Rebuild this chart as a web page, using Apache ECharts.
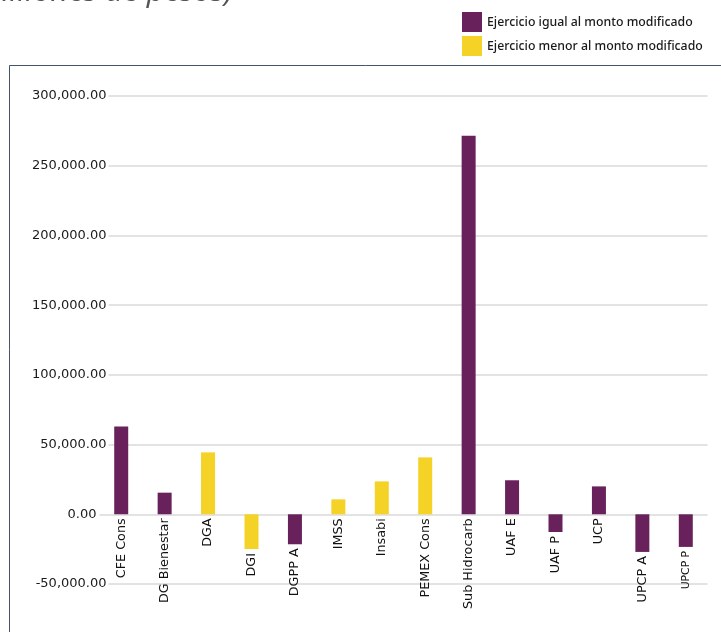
<!DOCTYPE html>
<html>
<head>
<meta charset="utf-8">
<script src="https://cdn.jsdelivr.net/npm/echarts@6/dist/echarts.min.js"></script>
<style>
  html, body { margin: 0; padding: 0; background: #fff; }
  #chart { width: 721px; height: 632px; }
</style>
</head>
<body>
<div id="chart"></div>
<script>
// Budget units (unidades responsables)
const categories = ['CFE Cons', 'DG Bienestar', 'DGA', 'DGI', 'DGPP A', 'IMSS', 'Insabi',
  'PEMEX Cons', 'Sub Hidrocarb', 'UAF E', 'UAF P', 'UCP', 'UPCP A', 'UPCP P'];

// Spending equal to the modified amount (millions of pesos)
const igualValues = [63000, 15500, null, null, -21500, null, null,
  null, 271500, 24400, -12700, 20000, -27000, -23400];

// Spending below the modified amount (millions of pesos)
const menorValues = [null, null, 44400, -24900, null, 10700, 23600,
  40800, null, null, null, null, null, null];

const seriesNames = ['Ejercicio igual al monto modificado', 'Ejercicio menor al monto modificado'];
const titleText = '(Millones de pesos)';

const yMin = -50000, yMax = 300000, yStep = 50000;

const PURPLE = '#68215A';
const YELLOW = '#F4D226';

function fmt(v) {
  return v.toLocaleString('en-US', { minimumFractionDigits: 2, maximumFractionDigits: 2 });
}

// Category names are drawn at the lower end of each bar
function toItems(values) {
  return values.map(function (v, i) {
    if (v === null) return null;
    const item = { value: v };
    if (categories[i] === 'UPCP P') item.label = { fontSize: 10.8 };
    return item;
  });
}

const barLabel = {
  show: true,
  position: 'bottom',
  distance: 4,
  rotate: 90,
  align: 'right',
  verticalAlign: 'middle',
  formatter: '{b}',
  fontFamily: 'DejaVu Sans',
  fontSize: 12.8,
  color: '#111'
};

const chart = echarts.init(document.getElementById('chart'), null, { renderer: 'canvas' });

chart.setOption({
  animation: false,
  backgroundColor: '#fff',
  graphic: [
    {
      type: 'rect',
      shape: { x: 9.5, y: 65.5, width: 800, height: 700 },
      style: { fill: 'none', stroke: '#44546A', lineWidth: 1 },
      z: -10
    },
    {
      type: 'text',
      x: 233,
      y: -8,
      style: {
        text: titleText,
        fontFamily: 'Open Sans',
        fontStyle: 'italic',
        fontSize: 31,
        fill: '#555',
        align: 'right',
        verticalAlign: 'middle'
      }
    }
  ],
  legend: {
    orient: 'vertical',
    left: 462,
    top: 12,
    padding: 0,
    itemWidth: 20,
    itemHeight: 20,
    itemGap: 4,
    icon: 'rect',
    data: seriesNames,
    textStyle: { fontFamily: 'Noto Sans', fontSize: 12.3, fontWeight: 500, color: '#1a1a1a' }
  },
  grid: { left: 99.5, right: 13.5, top: 96, bottom: 48, containLabel: false },
  xAxis: {
    type: 'category',
    data: categories,
    axisLine: { show: false },
    axisTick: { show: false },
    axisLabel: { show: false },
    splitLine: { show: false }
  },
  yAxis: [
    {
      type: 'value',
      min: yMin, max: yMax, interval: yStep,
      axisLine: { show: false },
      axisTick: { show: false },
      axisLabel: { show: false },
      splitLine: { show: true, lineStyle: { color: '#DADADA', width: 1.5 } }
    },
    {
      type: 'value',
      position: 'left',
      min: yMin, max: yMax, interval: yStep,
      z: 5,
      axisLine: { show: false },
      axisTick: { show: false },
      splitLine: { show: false },
      axisLabel: {
        margin: -9,
        formatter: function (v) { return v === 0 ? '{z|' + fmt(v) + '}' : '{a|' + fmt(v) + '}'; },
        rich: {
          a: { fontFamily: 'DejaVu Sans', fontSize: 13, color: '#1a1a1a', backgroundColor: '#fff', padding: [1, 2, 1, 0] },
          z: { fontFamily: 'DejaVu Sans', fontSize: 13, color: '#1a1a1a', padding: [1, 12, 1, 0] }
        }
      }
    }
  ],
  series: [
    {
      name: seriesNames[0],
      type: 'bar',
      yAxisIndex: 0,
      barWidth: 14,
      barGap: '-100%',
      itemStyle: { color: PURPLE },
      label: barLabel,
      data: toItems(igualValues)
    },
    {
      name: seriesNames[1],
      type: 'bar',
      yAxisIndex: 0,
      barWidth: 14,
      barGap: '-100%',
      itemStyle: { color: YELLOW },
      label: barLabel,
      data: toItems(menorValues)
    }
  ]
});
</script>
</body>
</html>
